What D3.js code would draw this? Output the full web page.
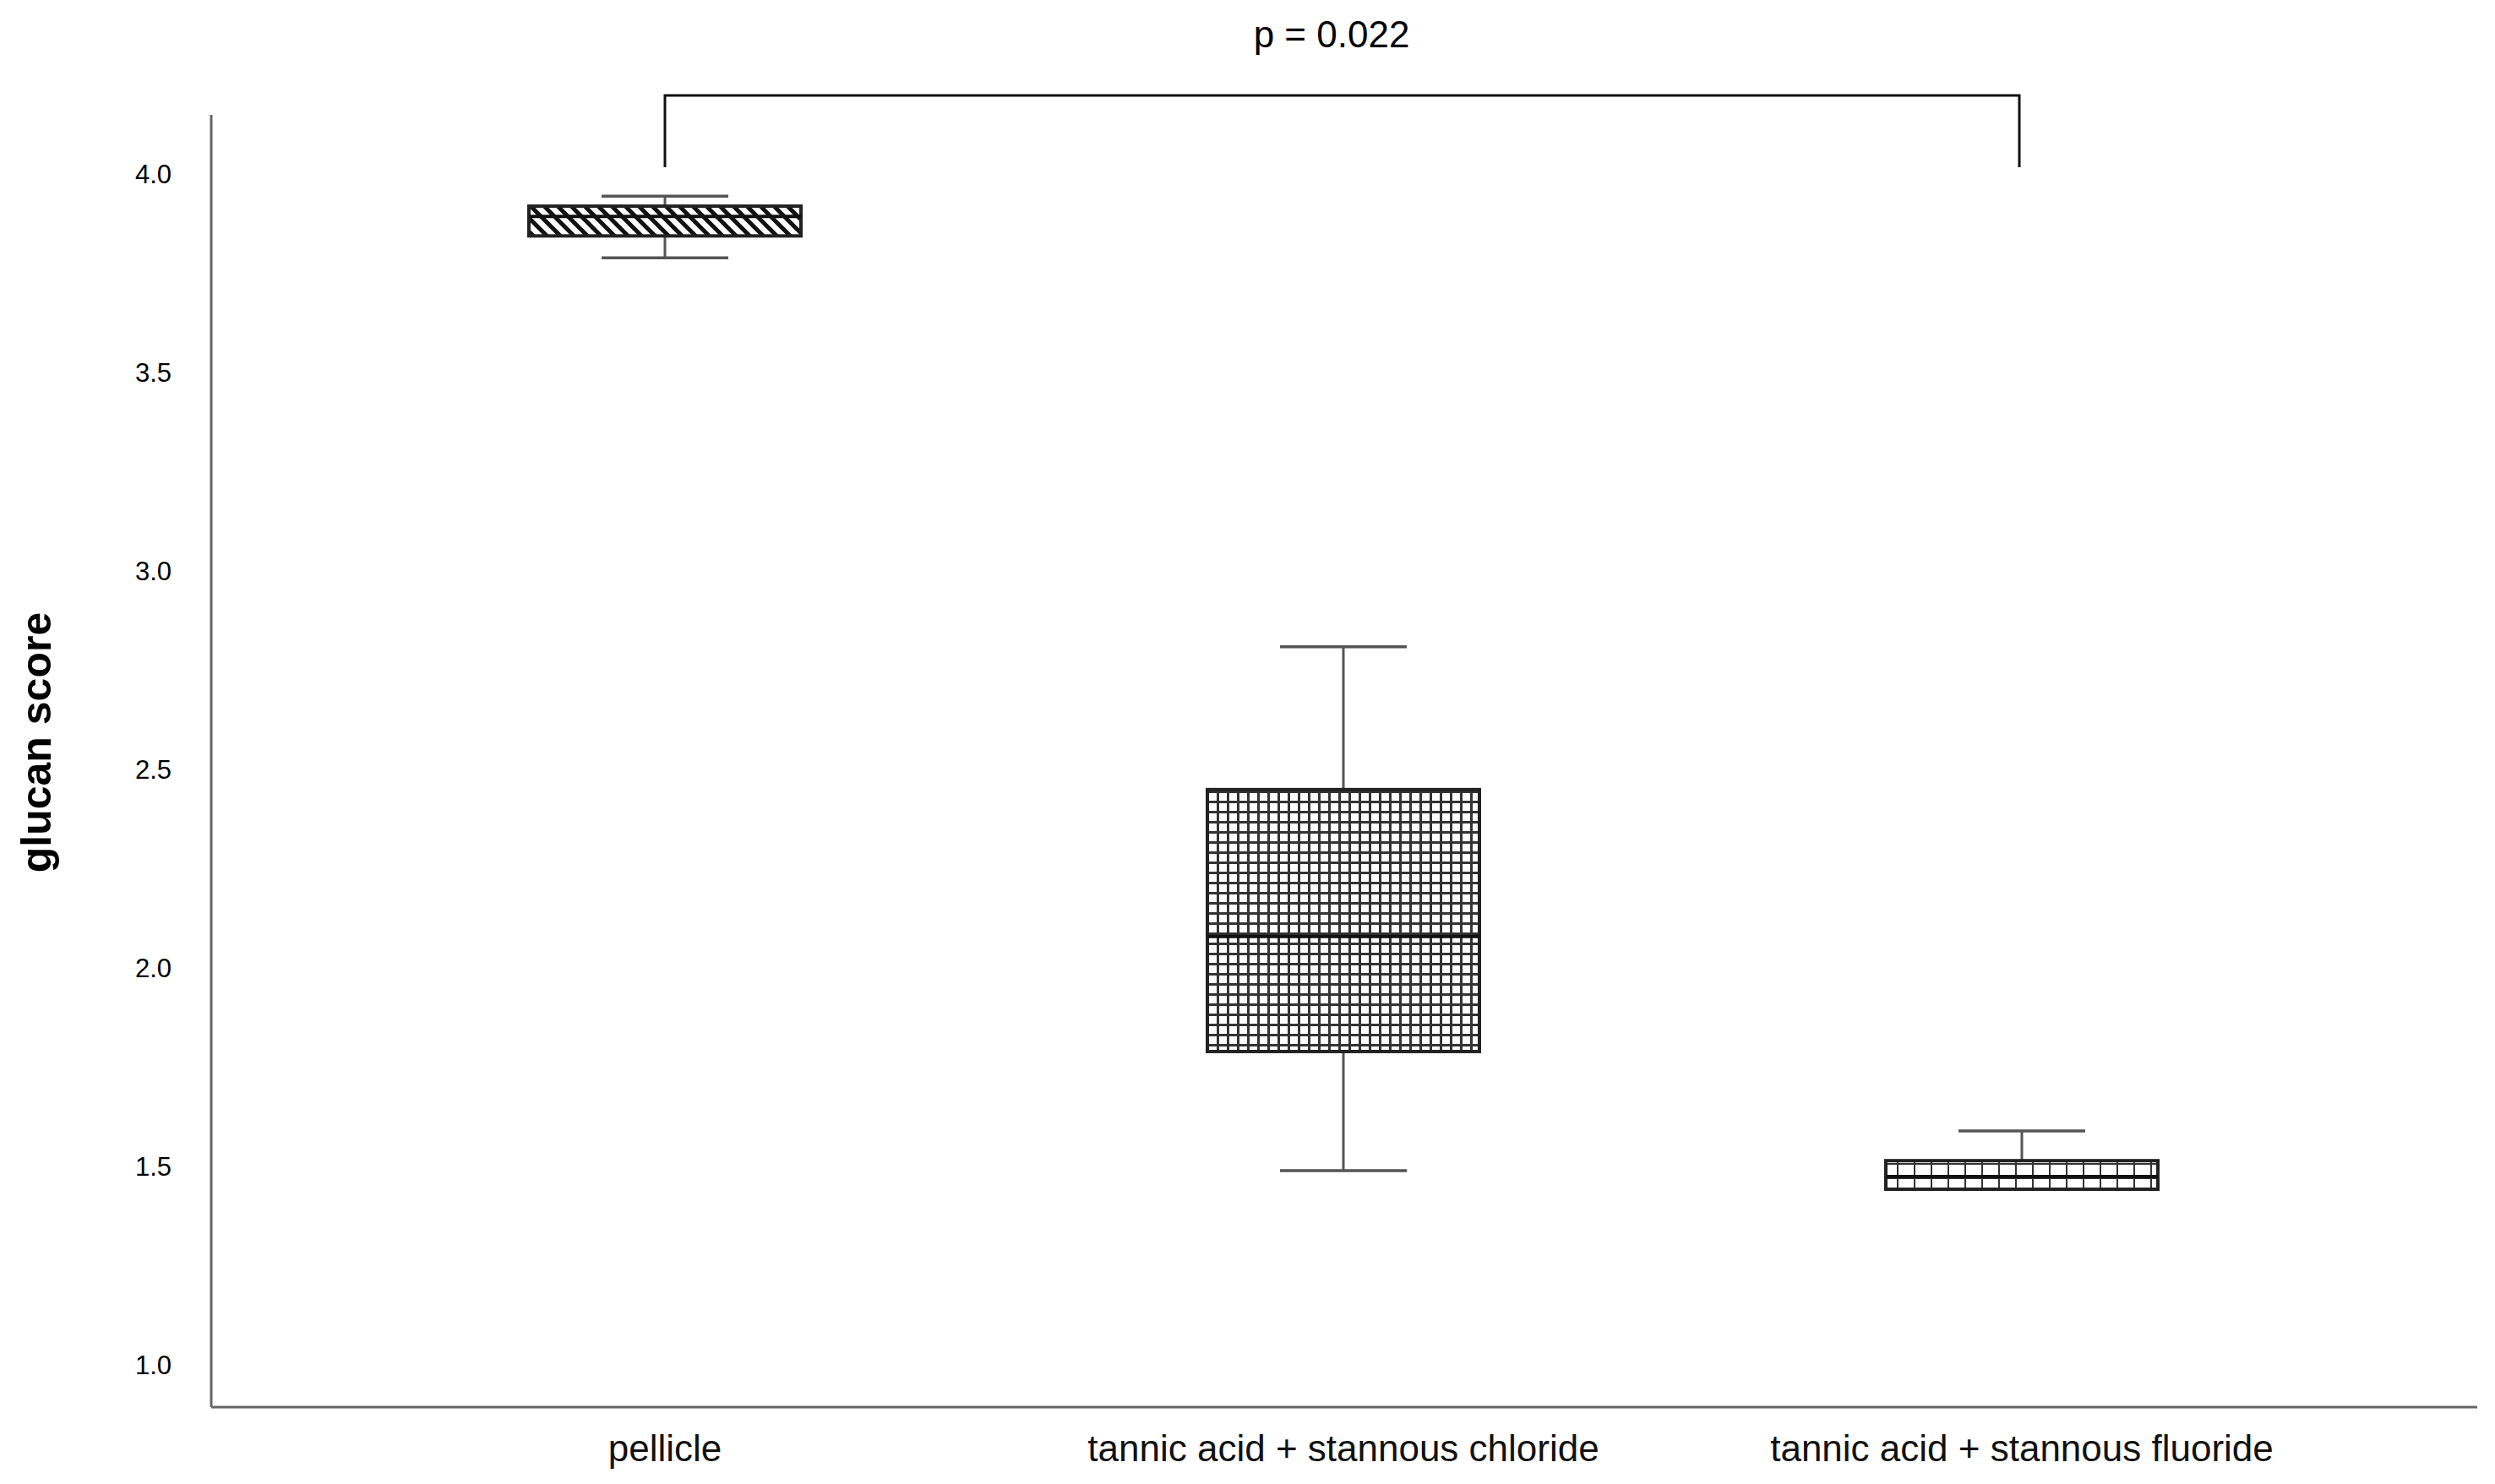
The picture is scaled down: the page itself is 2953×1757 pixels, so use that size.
<!DOCTYPE html>
<html><head><meta charset="utf-8">
<script src="https://cdn.jsdelivr.net/npm/d3@7"></script>
<style>body{margin:0;background:#fff}</style>
</head><body>
<svg id="chart"></svg>
<script>
// data
const groups = ["pellicle", "tannic acid + stannous chloride", "tannic acid + stannous fluoride"];
const whiskerLow = [3.79, 1.49, 1.443];
const q1 = [3.845, 1.79, 1.443];
const median = [3.894, 2.08, 1.475];
const q3 = [3.92, 2.45, 1.515];
const whiskerHigh = [3.945, 2.81, 1.59];
const patterns = ["hatch", "fineGrid", "wideGrid"];
const yTicks = [1.0, 1.5, 2.0, 2.5, 3.0, 3.5, 4.0];
const pText = "p = 0.022";

const width = 2953, height = 1757;
const fontFamily = "Liberation Sans, Arial, sans-serif";
const svg = d3.select("#chart").attr("width", width).attr("height", height);

const x = d3.scalePoint().domain(groups).range([787, 2393]);
const y = d3.scaleLinear().domain([0.894, 4.15]).range([1666, 136]);

// patterns
const defs = svg.append("defs");
let p = defs.append("pattern").attr("id", "hatch").attr("patternUnits", "userSpaceOnUse")
  .attr("width", 16).attr("height", 16);
p.append("rect").attr("width", 16).attr("height", 16).attr("fill", "#fff");
p.append("path").attr("d", "M-4,-4 L20,20 M-4,12 L4,20 M12,-4 L20,4").attr("stroke", "#111").attr("stroke-width", 5);
p = defs.append("pattern").attr("id", "fineGrid").attr("patternUnits", "userSpaceOnUse")
  .attr("width", 12).attr("height", 12);
p.append("rect").attr("width", 12).attr("height", 12).attr("fill", "#fff");
p.append("path").attr("d", "M0,0 H12 M0,0 V12").attr("stroke", "#333").attr("stroke-width", 6);
p = defs.append("pattern").attr("id", "wideGrid").attr("patternUnits", "userSpaceOnUse")
  .attr("width", 20).attr("height", 17).attr("x", 2395 - 10);
p.append("rect").attr("width", 20).attr("height", 17).attr("fill", "#fff");
p.append("path").attr("d", "M0,0 H20 M0,0 V17").attr("stroke", "#333").attr("stroke-width", 4);

// axes lines
svg.append("line").attr("x1", 250).attr("x2", 250).attr("y1", 136).attr("y2", 1666)
  .attr("stroke", "#666").attr("stroke-width", 3);
svg.append("line").attr("x1", 250).attr("x2", 2932).attr("y1", 1666).attr("y2", 1666)
  .attr("stroke", "#666").attr("stroke-width", 3);

svg.append("g").selectAll("text").data(yTicks).enter().append("text")
  .attr("x", 203).attr("y", d => y(d)).attr("dy", "0.35em")
  .attr("text-anchor", "end").attr("font-family", fontFamily).attr("font-size", 31)
  .text(d => d.toFixed(1));

svg.append("text").attr("transform", "translate(60, 879) rotate(-90)")
  .attr("text-anchor", "middle").attr("font-family", fontFamily).attr("font-size", 50)
  .attr("font-weight", "bold").text("glucan score");

svg.append("g").selectAll("text").data(groups).enter().append("text")
  .attr("x", d => x(d)).attr("y", 1730).attr("text-anchor", "middle")
  .attr("font-family", fontFamily).attr("font-size", 44).attr("fill", "#111")
  .text(d => d);

// boxes
const boxW = 322, capW = 150;
const g = svg.append("g").selectAll("g").data(groups).enter().append("g");
g.append("line").attr("x1", d => x(d)).attr("x2", d => x(d))
  .attr("y1", (d, i) => y(whiskerLow[i])).attr("y2", (d, i) => y(whiskerHigh[i]))
  .attr("stroke", "#555").attr("stroke-width", 3);
g.append("line").attr("x1", d => x(d) - capW / 2).attr("x2", d => x(d) + capW / 2)
  .attr("y1", (d, i) => y(whiskerHigh[i])).attr("y2", (d, i) => y(whiskerHigh[i]))
  .attr("stroke", "#555").attr("stroke-width", 3.5);
g.filter((d, i) => whiskerLow[i] < q1[i]).append("line")
  .attr("x1", d => x(d) - capW / 2).attr("x2", d => x(d) + capW / 2)
  .attr("y1", d => y(whiskerLow[groups.indexOf(d)])).attr("y2", d => y(whiskerLow[groups.indexOf(d)]))
  .attr("stroke", "#555").attr("stroke-width", 3.5);
g.append("rect").attr("x", d => x(d) - boxW / 2).attr("width", boxW)
  .attr("y", (d, i) => y(q3[i])).attr("height", (d, i) => y(q1[i]) - y(q3[i]))
  .attr("fill", (d, i) => `url(#${patterns[i]})`).attr("stroke", "#222").attr("stroke-width", 4);
g.append("line").attr("x1", d => x(d) - boxW / 2).attr("x2", d => x(d) + boxW / 2)
  .attr("y1", (d, i) => y(median[i])).attr("y2", (d, i) => y(median[i]))
  .attr("stroke", "#111").attr("stroke-width", 4);

// significance bracket
const bTop = 113, bBottom = 198;
svg.append("path")
  .attr("d", `M${x(groups[0])},${bBottom} V${bTop} H${x(groups[2]) - 3} V${bBottom}`)
  .attr("fill", "none").attr("stroke", "#111").attr("stroke-width", 3);
svg.append("text").attr("x", (x(groups[0]) + x(groups[2])) / 2 - 14).attr("y", 56)
  .attr("text-anchor", "middle").attr("font-family", fontFamily).attr("font-size", 44)
  .text(pText);
</script>
</body></html>
